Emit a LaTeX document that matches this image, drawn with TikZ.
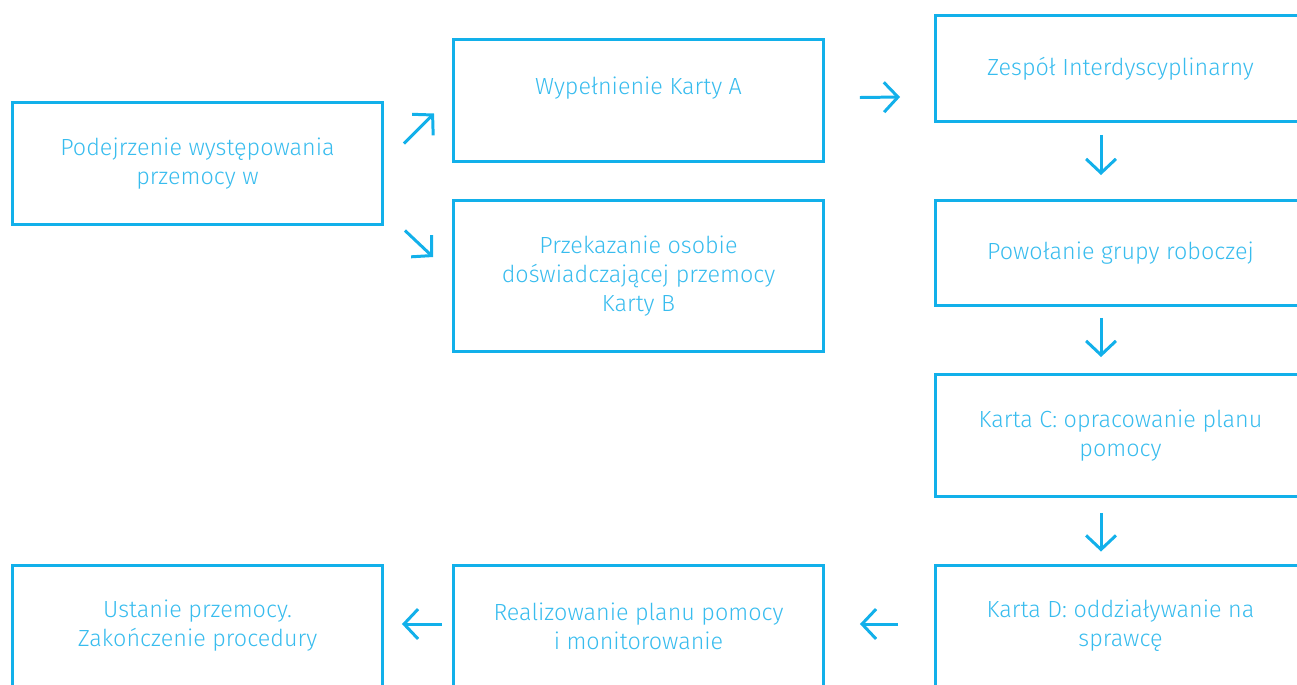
\documentclass[tikz,border=0pt]{standalone}
\usepackage{fontspec}
\setmainfont{Fira Sans}[UprightFont=* Light]
\usepackage{tikz}
\usetikzlibrary{
    arrows.meta,
    positioning
}
\definecolor{procblue}{HTML}{12B0EA}
\definecolor{proctext}{HTML}{38BCEE}
\tikzset{
    procbox/.style={
        rectangle, draw=procblue, line width=1.7pt,
        minimum width=7.4cm, minimum height=2.44cm,
        align=center, text=proctext,
        font=\fontsize{13.3}{16.5}\selectfont
    },
    flow/.style={
        -{Straight Barb[length=8pt, width=17pt]}, line width=1.7pt,
        color=procblue
    },
}

\begin{document}
\begin{tikzpicture}[x=0.02cm, y=-0.02cm]

    \clip (0,0) rectangle (1297,684);
    \useasboundingbox (0,0) rectangle (1297,684);

    % Left column
    \node[procbox] (suspect) at (197.5,163.5) {Podejrzenie występowania\\przemocy w};
    \node[procbox] (end) at (197.5,626) {Ustanie przemocy.\\Zakończenie procedury};

    % Middle column
    \node[procbox] (cardA) at (638.5,100.5) {Wypełnienie Karty A\\\mbox{}};
    \node[procbox, minimum height=3.02cm] (cardB) at (638.5,276) {Przekazanie osobie\\doświadczającej przemocy\\Karty B};
    \node[procbox] (realize) at (638.5,626) {Realizowanie planu pomocy\\i monitorowanie};

    % Right column
    \node[procbox, minimum height=2.12cm] (team) at (1120.5,68.5) {Zespół Interdyscyplinarny};
    \node[procbox, minimum height=2.1cm] (group) at (1120.5,253) {Powołanie grupy roboczej};
    \node[procbox] (cardC) at (1120.5,435.5) {Karta C: opracowanie planu\\pomocy};
    \node[procbox] (cardD) at (1120.5,626) {Karta D: oddziaływanie na\\sprawcę};

    % Flows
    \draw[flow] ([shift={(20,-20)}]suspect.east) -- ([shift={(-18,13)}]cardA.west);
    \draw[flow] ([shift={(21,67)}]suspect.east) -- ([shift={(-19,-19)}]cardB.west);
    \draw[flow] ([shift={(35,-3)}]cardA.east) -- ([shift={(-34,28.5)}]team.west);
    \draw[flow] ([shift={(-19.5,12)}]team.south) -- ([shift={(-19.5,-24)}]group.north);
    \draw[flow] ([shift={(-19.5,11)}]group.south) -- ([shift={(-19.5,-16)}]cardC.north);
    \draw[flow] ([shift={(-19.5,15)}]cardC.south) -- ([shift={(-19.5,-12)}]cardD.north);
    \draw[flow] ([shift={(-36,-2)}]cardD.west) -- ([shift={(35,-2)}]realize.east);
    \draw[flow] ([shift={(-10,-2)}]realize.west) -- ([shift={(18,-2)}]end.east);

\end{tikzpicture}
\end{document}
